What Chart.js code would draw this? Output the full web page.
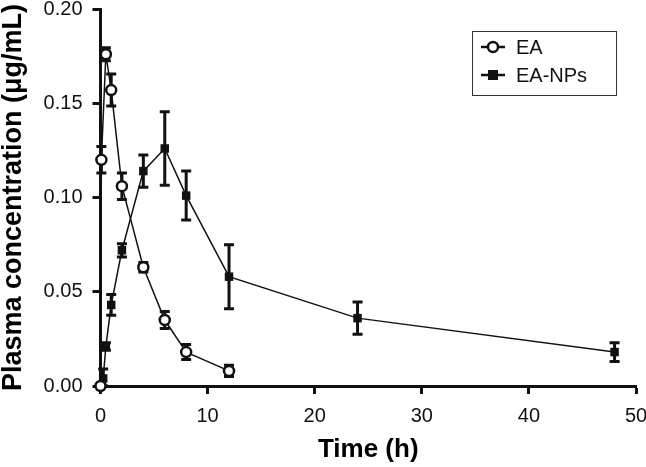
<!DOCTYPE html>
<html>
<head>
<meta charset="utf-8">
<script src="https://cdn.jsdelivr.net/npm/chart.js@4"></script>
<style>
  html, body { margin: 0; padding: 0; background: #fff; }
  #wrap { width: 646px; height: 467px; }
</style>
</head>
<body>
<div id="wrap"><canvas id="pkChart" width="646" height="467"></canvas></div>
<script>
// Time points (h) and plasma concentration (ug/mL), mean and SD
const timesEA = [0, 0.083, 0.5, 1, 2, 4, 6, 8, 12];
const meanEA = [0, 0.120, 0.176, 0.157, 0.106, 0.063, 0.035, 0.018, 0.008];
const sdEA = [0, 0.007, 0.0035, 0.0085, 0.007, 0.0025, 0.0045, 0.004, 0.003];

const timesNP = [0, 0.25, 0.5, 1, 2, 4, 6, 8, 12, 24, 48];
const meanNP = [0, 0.004, 0.021, 0.043, 0.072, 0.114, 0.126, 0.101, 0.058, 0.036, 0.018];
const sdNP = [0, 0.005, 0.002, 0.0055, 0.0035, 0.0085, 0.0195, 0.013, 0.017, 0.0085, 0.005];

const seriesNames = ["EA", "EA-NPs"];
const xTicks = [0, 10, 20, 30, 40, 50];
const yTicks = [0, 0.05, 0.10, 0.15, 0.20];

function toPoints(times, means) {
    return times.map((t, i) => ({ x: t, y: means[i] }));
}

// labels may hang outside the plot, like in the original figure
function noOverflow(scale) {
    scale.paddingTop = 0;
    scale.paddingBottom = 0;
    scale.paddingLeft = 0;
    scale.paddingRight = 0;
}

// error bars drawn under the lines/markers
const errorBars = {
    id: "errorBars",
    beforeDatasetsDraw(chart) {
        const ctx = chart.ctx;
        const x = chart.scales.x;
        const y = chart.scales.y;
        ctx.save();
        ctx.strokeStyle = "#111";
        ctx.lineWidth = 3;
        chart.data.datasets.forEach(ds => {
            ds.data.forEach((p, i) => {
                const sd = ds.sd[i];
                if (!sd) return;
                const px = x.getPixelForValue(p.x);
                const top = y.getPixelForValue(p.y + sd);
                const bot = y.getPixelForValue(Math.max(0, p.y - sd));
                ctx.beginPath();
                ctx.moveTo(px, top); ctx.lineTo(px, bot);
                ctx.moveTo(px - 5, top); ctx.lineTo(px + 5, top);
                ctx.moveTo(px - 5, bot); ctx.lineTo(px + 5, bot);
                ctx.stroke();
            });
        });
        ctx.restore();
    }
};

// boxed legend inside the plot
const boxLegend = {
    id: "boxLegend",
    afterDraw(chart) {
        const ctx = chart.ctx;
        ctx.save();
        ctx.strokeStyle = "#333";
        ctx.lineWidth = 1;
        ctx.strokeRect(472.5, 31.5, 144, 64);
        ctx.font = "20px 'Liberation Sans', Arial, sans-serif";
        ctx.textBaseline = "middle";
        const rows = [47, 75];
        rows.forEach((cy, i) => {
            ctx.strokeStyle = "#111";
            ctx.lineWidth = 2.5;
            ctx.beginPath();
            ctx.moveTo(481, cy); ctx.lineTo(505, cy);
            ctx.stroke();
            if (i === 0) {
                ctx.beginPath();
                ctx.fillStyle = "#fff";
                ctx.arc(493, cy, 5, 0, Math.PI * 2);
                ctx.fill();
                ctx.stroke();
            } else {
                ctx.fillStyle = "#111";
                ctx.fillRect(488, cy - 5, 10, 10);
            }
            ctx.fillStyle = "#111";
            ctx.fillText(seriesNames[i], 516, cy + 1);
        });
        ctx.restore();
    }
};

const ctx = document.getElementById("pkChart").getContext("2d");
new Chart(ctx, {
    type: "line",
    data: {
        datasets: [{
            label: seriesNames[0],
            data: toPoints(timesEA, meanEA),
            sd: sdEA,
            borderColor: "#111",
            borderWidth: 1.5,
            pointStyle: "circle",
            pointRadius: 5,
            pointBorderWidth: 2.5,
            pointBorderColor: "#111",
            pointBackgroundColor: "#fff",
            clip: false
        }, {
            label: seriesNames[1],
            data: toPoints(timesNP, meanNP),
            sd: sdNP,
            borderColor: "#111",
            borderWidth: 1.5,
            pointStyle: "rect",
            pointRadius: 6,
            pointBorderWidth: 0,
            pointBackgroundColor: "#111",
            clip: false
        }]
    },
    options: {
        responsive: false,
        animation: false,
        layout: { padding: { left: 0, right: 10, top: 9, bottom: 0 } },
        plugins: {
            legend: { display: false },
            tooltip: { enabled: false }
        },
        scales: {
            x: {
                type: "linear",
                min: 0,
                max: 50,
                afterFit(scale) { scale.height = 81; noOverflow(scale); },
                afterBuildTicks(scale) { scale.ticks = xTicks.map(v => ({ value: v })); },
                border: { display: true, color: "#111", width: 3 },
                grid: { drawOnChartArea: false, drawTicks: true, tickLength: 8, tickWidth: 3, tickColor: "#111", color: "#111" },
                ticks: {
                    color: "#111",
                    padding: 10,
                    maxRotation: 0,
                    font: { family: "'Liberation Sans', Arial, sans-serif", size: 20 }
                },
                title: {
                    display: true,
                    text: "Time (h)",
                    color: "#000",
                    padding: { top: 0, bottom: 2 },
                    font: { family: "'Liberation Sans', Arial, sans-serif", size: 26, weight: "bold" }
                }
            },
            y: {
                min: 0,
                max: 0.2,
                afterFit(scale) { scale.width = 100.5; noOverflow(scale); },
                afterBuildTicks(scale) { scale.ticks = yTicks.map(v => ({ value: v })); },
                border: { display: true, color: "#111", width: 3 },
                grid: { drawOnChartArea: false, drawTicks: true, tickLength: 8, tickWidth: 3, tickColor: "#111", color: "#111" },
                ticks: {
                    color: "#111",
                    padding: 10,
                    font: { family: "'Liberation Sans', Arial, sans-serif", size: 20 },
                    callback: function(value) { return value.toFixed(2); }
                },
                title: {
                    display: true,
                    text: "Plasma concentration (μg/mL)",
                    color: "#000",
                    padding: { top: 0, bottom: 0 },
                    font: { family: "'Liberation Sans', Arial, sans-serif", size: 27, weight: "bold", lineHeight: 1 }
                }
            }
        }
    },
    plugins: [errorBars, boxLegend]
});
</script>
</body>
</html>
